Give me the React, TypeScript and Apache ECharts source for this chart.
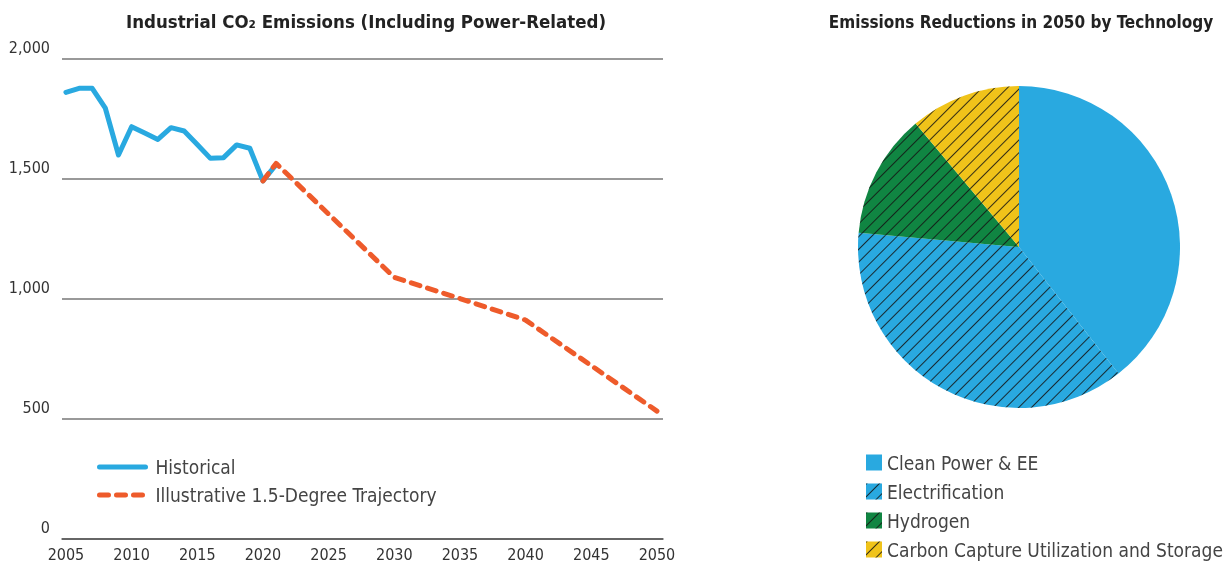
import React, { useEffect, useRef } from "react";
import * as echarts from "echarts";

const FONT = "'Liberation Sans Narrow', 'DejaVu Sans Condensed', 'Roboto', sans-serif";

const historyYears = [2005, 2006, 2007, 2008, 2009, 2010, 2011, 2012, 2013, 2014, 2015, 2016, 2017, 2018, 2019, 2020, 2021];
const historyValues = [1861, 1878, 1878, 1795, 1600, 1718, 1692, 1665, 1714, 1700, 1644, 1586, 1589, 1642, 1628, 1492, 1560];

const trajectoryYears = [2020, 2021, 2030, 2035, 2040, 2050];
const trajectoryValues = [1492, 1565, 1090, 1002, 912, 533];

const xTicks = [2005, 2010, 2015, 2020, 2025, 2030, 2035, 2040, 2045, 2050];
const yTicks = [0, 500, 1000, 1500, 2000];

const techNames = ["Clean Power & EE", "Electrification", "Hydrogen", "Carbon Capture Utilization and Storage"];
const techShares = [39.4, 37.0, 12.5, 11.1];
const techColors = ["#29a9e0", "#29a9e0", "#108542", "#f0c31a"];
const techHatched = [false, true, true, true];

const seriesNames = ["Historical", "Illustrative 1.5-Degree Trajectory"];

export default function App() {
  const ref = useRef<HTMLDivElement>(null);
  useEffect(() => {
    document.body.style.margin = "0";
    if (!ref.current) return;
    const chart = echarts.init(ref.current, undefined, { renderer: "svg" });
    const hatch = {
      symbol: "rect",
      symbolSize: 1,
      dashArrayX: [1, 0],
      dashArrayY: [1, 8],
      rotation: -Math.PI / 4,
      color: "rgba(20,20,20,0.85)",
    };
    chart.setOption({
      animation: false,
      textStyle: { fontFamily: FONT },
      title: [
        {
          text: "Industrial CO₂ Emissions (Including Power-Related)",
          left: 361,
          top: 7,
          textAlign: "center",
          textStyle: { fontFamily: FONT, fontSize: 18.5, fontWeight: "bold", color: "#222" },
        },
        {
          text: "Emissions Reductions in 2050 by Technology",
          left: 1016,
          top: 8,
          textAlign: "center",
          textStyle: { fontFamily: FONT, fontSize: 17, fontWeight: "bold", color: "#222" },
        },
      ],
      legend: [
        {
          data: seriesNames,
          orient: "vertical",
          left: 97,
          top: 457,
          padding: 0,
          itemWidth: 46,
          itemHeight: 12,
          itemGap: 8,
          itemStyle: { opacity: 0 },
          lineStyle: { width: 5 },
          textStyle: { fontFamily: FONT, fontSize: 19, color: "#444", lineHeight: 20, padding: [0, 0, 0, 5] },
        },
        {
          data: techNames,
          orient: "vertical",
          left: 866,
          top: 453,
          padding: 0,
          height: 116,
          itemWidth: 16,
          itemHeight: 16,
          itemGap: 10,
          icon: "rect",
          textStyle: { fontFamily: FONT, fontSize: 19, color: "#444", lineHeight: 18 },
        },
      ],
      grid: { left: 62, right: 563, top: 59, bottom: 30 },
      xAxis: {
        type: "value",
        min: 2004.7,
        max: 2050.46,
        axisLine: { show: true, lineStyle: { color: "#555", width: 1.5 } },
        axisTick: { show: false },
        splitLine: { show: false },
        axisLabel: {
          customValues: xTicks,
          formatter: (v: number) => String(v),
          fontFamily: FONT,
          fontSize: 16,
          color: "#333",
          margin: 7,
        },
      },
      yAxis: {
        type: "value",
        min: yTicks[0],
        max: yTicks[yTicks.length - 1],
        interval: 500,
        axisLine: { show: false },
        axisTick: { show: false },
        splitLine: { show: true, lineStyle: { color: "#777", width: 1.5 } },
        axisLabel: {
          formatter: (v: number) => v.toLocaleString("en-US"),
          fontFamily: FONT,
          fontSize: 16,
          color: "#333",
          margin: 12,
          verticalAlign: "bottom",
          padding: [0, 0, 4, 0],
        },
      },
      series: [
        {
          name: seriesNames[0],
          type: "line",
          data: historyYears.map((y, i) => [y, historyValues[i]]),
          symbol: "none",
          lineStyle: { color: "#29a9e0", width: 5, join: "round", cap: "round" },
          itemStyle: { color: "#29a9e0" },
          z: 2,
        },
        {
          name: seriesNames[1],
          type: "line",
          data: trajectoryYears.map((y, i) => [y, trajectoryValues[i]]),
          symbol: "none",
          lineStyle: { color: "#ee5b2b", width: 5, type: [9, 8], cap: "round", join: "round" },
          itemStyle: { color: "#ee5b2b" },
          z: 3,
        },
        {
          type: "pie",
          center: [1019, 247],
          radius: 161,
          startAngle: 90,
          clockwise: true,
          label: { show: false },
          labelLine: { show: false },
          emphasis: { disabled: true },
          data: techNames.map((n, i) => ({
            name: n,
            value: techShares[i],
            itemStyle: {
              color: techColors[i],
              borderWidth: 0,
              decal: techHatched[i] ? hatch : { symbol: "none" },
            },
          })),
        },
      ],
    });
    return () => chart.dispose();
  }, []);
  return <div ref={ref} style={{ position: "fixed", left: 0, top: 0, width: 1226, height: 569 }} />;
}
